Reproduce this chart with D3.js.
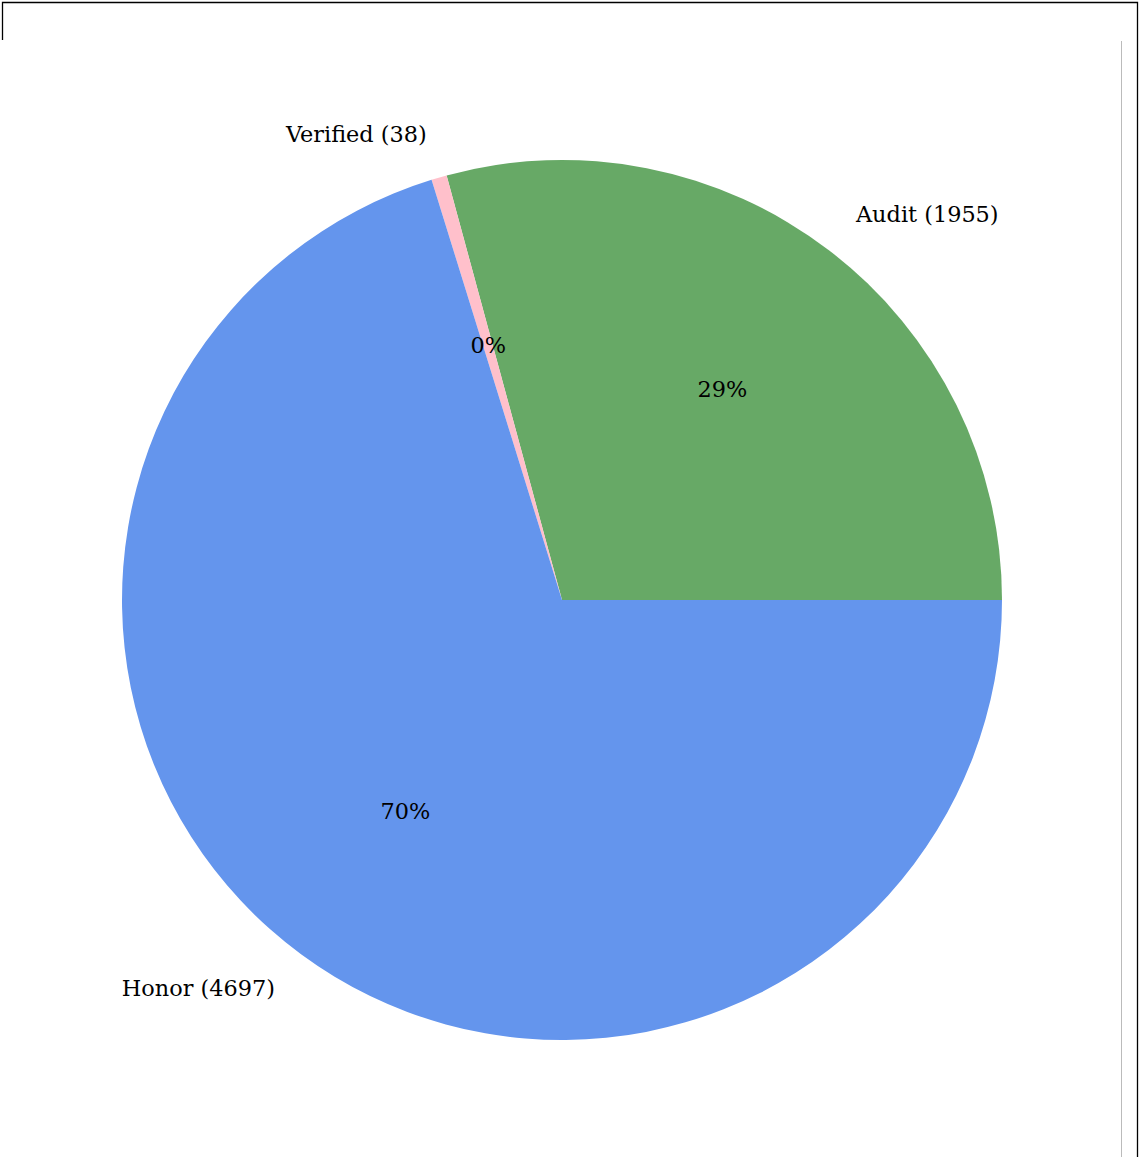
<!DOCTYPE html>
<html>
<head>
<meta charset="utf-8">
<script src="https://cdn.jsdelivr.net/npm/d3@7"></script>
<style>
  body { margin: 0; background: #fff; }
  svg { display: block; }
</style>
</head>
<body>
<script>
// chart data
const categories = ["Audit", "Verified", "Honor"];
const counts = [1955, 38, 4697];
const sliceColors = ["#67a966", "#ffc0cb", "#6495ed"];

const width = 1139, height = 1157;
const cx = 562, cy = 600, radius = 440;

const svg = d3.select("body").append("svg")
    .attr("width", width)
    .attr("height", height);

// frame lines around the output cell
svg.append("path")
    .attr("d", "M2.5,40 V2.5 H1137.5 V1157")
    .attr("fill", "none")
    .attr("stroke", "#000")
    .attr("stroke-width", 1.3);
svg.append("line")
    .attr("x1", 1121.5).attr("x2", 1121.5)
    .attr("y1", 41).attr("y2", height)
    .attr("stroke", "#bbb")
    .attr("stroke-width", 1);

const total = d3.sum(counts);

// matplotlib-style: start at 3 o'clock, go counterclockwise
const pie = d3.pie()
    .sort(null)
    .startAngle(Math.PI / 2)
    .endAngle(Math.PI / 2 - 2 * Math.PI);

const arcs = pie(counts);

const arc = d3.arc().innerRadius(0).outerRadius(radius);

const g = svg.append("g").attr("transform", `translate(${cx},${cy})`);

g.selectAll("path.slice")
    .data(arcs)
    .join("path")
    .attr("class", "slice")
    .attr("d", arc)
    .attr("fill", (d, i) => sliceColors[i]);

// position at a fraction of radius along the mid angle (d3 angle: 0 = up, clockwise)
function pos(d, f) {
    const a = (d.startAngle + d.endAngle) / 2;
    return [Math.sin(a) * radius * f, -Math.cos(a) * radius * f];
}

const font = "'DejaVu Serif', serif";

g.selectAll("text.label")
    .data(arcs)
    .join("text")
    .attr("class", "label")
    .attr("x", d => pos(d, 1.1)[0])
    .attr("y", d => pos(d, 1.1)[1] - 1.5)
    .attr("text-anchor", d => pos(d, 1.1)[0] > 0 ? "start" : "end")
    .attr("dominant-baseline", "central")
    .style("font-family", font)
    .style("font-size", "22.4px")
    .attr("fill", "#000")
    .text((d, i) => `${categories[i]} (${counts[i]})`);

g.selectAll("text.pct")
    .data(arcs)
    .join("text")
    .attr("class", "pct")
    .attr("x", d => pos(d, 0.6)[0])
    .attr("y", d => pos(d, 0.6)[1] - 1.5)
    .attr("text-anchor", "middle")
    .attr("dominant-baseline", "central")
    .style("font-family", font)
    .style("font-size", "22.4px")
    .attr("fill", "#000")
    .text(d => Math.floor(d.value / total * 100) + "%");
</script>
</body>
</html>
